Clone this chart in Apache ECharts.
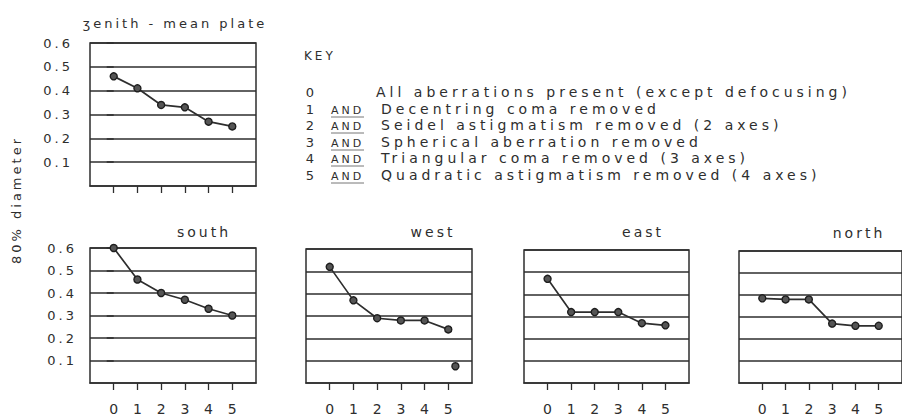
<!DOCTYPE html>
<html><head><meta charset="utf-8">
<script src="https://cdn.jsdelivr.net/npm/echarts@6/dist/echarts.min.js"></script>
<style>
html,body{margin:0;padding:0;background:#fff;}
#chart{width:902px;height:416px;}
#chart text{letter-spacing:3px;}
</style></head><body><div id="chart"></div>
<script>
// ---- data ----
const xTicks = [0, 1, 2, 3, 4, 5];
const yTicks = [0.1, 0.2, 0.3, 0.4, 0.5, 0.6];
const zenith = [0.46, 0.41, 0.34, 0.33, 0.27, 0.25];
const south  = [0.60, 0.46, 0.40, 0.37, 0.33, 0.30];
const west   = [0.52, 0.37, 0.29, 0.28, 0.28, 0.24];
const westExtra = [[5.3, 0.075]];
const east   = [0.47, 0.32, 0.32, 0.32, 0.27, 0.26];
const north  = [0.385, 0.38, 0.38, 0.27, 0.26, 0.26];
const panelTitles = ['ʒenith - mean plate', 'south', 'west', 'east', 'north'];
const yAxisTitle = '80% diameter';
const keyTitle = 'KEY';
const keyCodes = ['0', '1', '2', '3', '4', '5'];
const keyAnd = ['', 'AND', 'AND', 'AND', 'AND', 'AND'];
const keyTexts = [
  'All aberrations present (except defocusing)',
  'Decentring coma removed',
  'Seidel astigmatism removed (2 axes)',
  'Spherical aberration removed',
  'Triangular coma removed (3 axes)',
  'Quadratic astigmatism removed (4 axes)'
];
const panelData = [zenith, south, west, east, north];

// ---- layout / style ----
const INK = '#2e2e2e';
const FONT = '"DejaVu Sans", sans-serif';
const grids = [
  {left: 90,  top: 43,  width: 166, height: 143},
  {left: 90,  top: 248, width: 166, height: 144},
  {left: 306, top: 249, width: 166, height: 143},
  {left: 524, top: 250, width: 165, height: 143},
  {left: 739, top: 251, width: 165, height: 143}
];
const titlePos = [[175, 23], [204, 232], [433, 232], [643, 232], [859, 233]];

const option = {
  backgroundColor: '#fff',
  animation: false,
  grid: grids.map(g => Object.assign({show: true, borderColor: INK, borderWidth: 1.5, backgroundColor: 'transparent'}, g)),
  xAxis: grids.map((g, i) => ({
    type: 'value', gridIndex: i, min: -1, max: 6, interval: 1,
    axisLine: {show: true, lineStyle: {color: INK, width: 1.5}},
    axisTick: {show: true, length: 7, customValues: xTicks, lineStyle: {color: INK, width: 1.3}},
    axisLabel: {show: i > 0, customValues: xTicks, margin: 19, color: INK, fontFamily: FONT, fontSize: 14,
      formatter: v => (v < 0 || v > 5) ? '' : String(v)},
    splitLine: {show: false}
  })),
  yAxis: grids.map((g, i) => ({
    type: 'value', gridIndex: i, min: 0, max: 0.6, interval: 0.1,
    axisLine: {show: false},
    axisTick: {show: i < 2, length: 7, customValues: yTicks, lineStyle: {color: INK, width: 1.5}},
    axisLabel: {show: i < 2, customValues: yTicks, margin: i === 0 ? 17 : 13, color: INK, fontFamily: FONT, fontSize: 13,
      formatter: v => v > 0.05 ? v.toFixed(1) : ''},
    splitLine: {show: true, lineStyle: {color: INK, width: 1.5}}
  })),
  series: panelData.map((d, i) => ({
    type: 'line', xAxisIndex: i, yAxisIndex: i,
    data: xTicks.map((x, j) => [x, d[j]]),
    symbol: 'circle', symbolSize: 7,
    lineStyle: {color: INK, width: 1.7},
    itemStyle: {color: '#555', borderColor: '#1e1e1e', borderWidth: 1.4}
  })).concat([{
    type: 'scatter', xAxisIndex: 2, yAxisIndex: 2, data: westExtra,
    symbol: 'circle', symbolSize: 7,
    itemStyle: {color: '#555', borderColor: '#1e1e1e', borderWidth: 1.4, opacity: 1}
  }]),
  graphic: []
};

const txt = (text, x, y, size, align, extra) => Object.assign({
  type: 'text', x: x, y: y, silent: true,
  style: {text: text, x: 0, y: 0, fill: INK, font: size + 'px ' + FONT,
    textAlign: align, align: align, textVerticalAlign: 'middle', verticalAlign: 'middle'}
}, extra || {});

panelTitles.forEach((t, i) => option.graphic.push(txt(t, titlePos[i][0], titlePos[i][1], i === 0 ? 13 : 14, 'center')));
option.graphic.push(txt(yAxisTitle, 16, 200, 13, 'center', {rotation: Math.PI / 2}));
option.graphic.push(txt(keyTitle, 304, 56, 12, 'left'));
const rowY = [92, 109, 125, 142, 158, 175];
keyCodes.forEach((c, i) => {
  option.graphic.push(txt(c, 310, rowY[i], 13, 'center'));
  if (keyAnd[i]) {
    option.graphic.push(txt(keyAnd[i], 331, rowY[i] + 1, 11, 'left'));
    option.graphic.push({type: 'line', silent: true,
      shape: {x1: 331, y1: rowY[i] + 8, x2: 364, y2: rowY[i] + 8},
      style: {stroke: '#777', lineWidth: 1}});
  }
  option.graphic.push(txt(keyTexts[i], i === 0 ? 376 : 381, rowY[i], 14, 'left'));
});

const chart = echarts.init(document.getElementById('chart'), null, {renderer: 'svg'});
chart.setOption(option);

function spacing() {
  document.querySelectorAll('#chart text').forEach(t => {
    const s = t.textContent;
    if (keyTexts.indexOf(s) >= 0) t.style.letterSpacing = '4px';
    else if (/^\d$/.test(s)) t.style.letterSpacing = '0px';
  });
}
spacing();
chart.on('finished', spacing);
setTimeout(spacing, 50);
</script></body></html>
